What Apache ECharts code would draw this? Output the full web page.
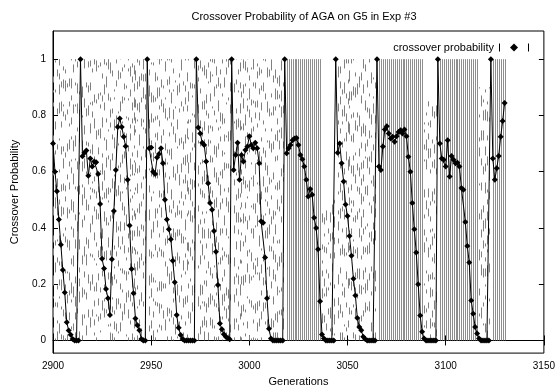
<!DOCTYPE html>
<html><head><meta charset="utf-8">
<script src="https://cdn.jsdelivr.net/npm/echarts@6/dist/echarts.min.js"></script>
<style>html,body{margin:0;padding:0;background:#fff}#c{width:558px;height:392px}</style>
</head><body><div id="c"></div>
<script>
// ---- data ----
const cycleStarts = [2900, 2914, 2948, 2973, 2991, 3018, 3044, 3065, 3096, 3123];
const cycle0 = [0.70,0.60,0.53,0.43,0.34,0.25,0.17,0.065,0.035,0.02,0.005,0,0,0];
const cycle1 = [1.0,0.655,0.667,0.675,0.585,0.647,0.618,0.636,0.633,0.592,0.485,0.29,0.256,0.183,0.15,0.09,0.289,0.46,0.606,0.759,0.789,0.759,0.724,0.69,0.571,0.409,0.254,0.168,0.078,0.054,0.036,0.005,0,0];
const cycle2 = [1.0,0.683,0.686,0.60,0.592,0.65,0.663,0.683,0.63,0.50,0.43,0.395,0.36,0.283,0.207,0.09,0.045,0.019,0.005,0,0,0,0,0,0];
const cycle3 = [1.0,0.757,0.736,0.703,0.695,0.636,0.559,0.489,0.465,0.389,0.315,0.197,0.06,0.04,0.022,0.013,0.008,0.004];
const cycle4 = [1.0,0.606,0.659,0.703,0.571,0.659,0.636,0.677,0.689,0.726,0.695,0.683,0.703,0.683,0.63,0.424,0.418,0.295,0.15,0.042,0.007,0,0,0,0,0,0];
const cycle5 = [1.0,0.665,0.683,0.695,0.712,0.718,0.72,0.695,0.659,0.644,0.618,0.571,0.512,0.538,0.518,0.436,0.40,0.324,0.139,0.021,0.007,0,0,0,0,0];
const cycle6 = [1.0,0.667,0.70,0.63,0.565,0.483,0.442,0.371,0.301,0.219,0.16,0.08,0.048,0.036,0.013,0.005,0,0,0,0,0];
const cycle7 = [1.0,0.618,0.606,0.689,0.75,0.761,0.736,0.718,0.724,0.706,0.726,0.741,0.747,0.736,0.75,0.726,0.653,0.60,0.489,0.395,0.313,0.20,0.089,0.031,0.007,0,0,0,0,0,0];
const cycle8 = [1.0,0.70,0.647,0.642,0.618,0.712,0.583,0.656,0.642,0.63,0.632,0.618,0.542,0.536,0.421,0.336,0.277,0.142,0.095,0.048,0.025,0.007,0,0,0,0,0];
const cycle9 = [1.0,0.647,0.571,0.612,0.656,0.724,0.78,0.844];

// error-bar runs: [fromGen, toGen, low, high]
const denseBarRuns = [[3019,3036,0,1],[3066,3088,0,1],[3097,3116,0,1],[3124,3130,0,1]];
const brokenBarRuns = [[2900,2913,0,1],[2915,2947,0,1],[2949,2972,0,1],[2974,2990,0,1],[2992,3017,0,1],[3037,3043,0,0.5],[3045,3064,0,1],[3089,3095,0,0.85],[3117,3122,0,0.9]];

const xTicks = [2900,2950,3000,3050,3100,3150];
const yTicks = [0,0.2,0.4,0.6,0.8,1];
const yTickLabels = ['0','0.2','0.4','0.6','0.8','1'];

const titleText = 'Crossover Probability of AGA on G5 in Exp #3';
const seriesName = 'crossover probability';

// ---- build series data ----
const cycles = [cycle0,cycle1,cycle2,cycle3,cycle4,cycle5,cycle6,cycle7,cycle8,cycle9];
const lineData = [];
cycles.forEach((c,i)=>c.forEach((v,j)=>lineData.push([cycleStarts[i]+j, v])));
function expandRuns(runs){
  const out=[];
  runs.forEach(r=>{ for(let g=r[0]; g<=r[1]; g++) out.push([g, r[2], r[3]]); });
  return out;
}
const denseBars = expandRuns(denseBarRuns);
const brokenBars = expandRuns(brokenBarRuns);

// deterministic irregular dash texture (purely a drawing style)
function hash(n){ let x = Math.sin(n * 12.9898 + 78.233) * 43758.5453; return x - Math.floor(x); }
function dashFor(g){
  const d = [];
  for (let k = 0; k < 14; k++) {
    const on = 2 + Math.floor(hash(g*31 + k*7) * 10);
    const off = 5 + Math.floor(hash(g*17 + k*13 + 5) * 28);
    d.push(on, off);
  }
  return d;
}

function barRenderer(broken){
  return function(params, api){
    const g = api.value(0);
    const p1 = api.coord([g, api.value(1)]);
    const p2 = api.coord([g, api.value(2)]);
    const px = Math.round(p1[0]) + 0.5;
    const style = {stroke: broken ? '#808080' : '#8e8e8e', lineWidth: 1};
    if (broken) { style.lineDash = dashFor(g); style.lineDashOffset = Math.floor(hash(g*3+1)*20); }
    return {type:'line', shape:{x1:px, y1:p1[1], x2:px, y2:p2[1]}, style: style, silent:true};
  };
}

const chart = echarts.init(document.getElementById('c'), null, {renderer:'canvas'});
const fontFam = '"Liberation Sans", Arial, Helvetica, sans-serif';
chart.setOption({
  animation: false,
  backgroundColor: '#fff',
  textStyle: {fontFamily: fontFam, color:'#000'},
  title: {text: titleText, left: 299, top: 6, textAlign: 'center',
          textStyle: {fontSize: 11, fontWeight: 'normal', color:'#000', fontFamily: fontFam}},
  legend: {data:[{name: seriesName, icon: 'path://M0,0L1,0L1,8L0,8Z M15,0L19,4L15,8L11,4Z M29,0L30,0L30,8L29,8Z'}],
           right: 24, top: 37, align: 'right', itemWidth: 30, itemHeight: 8, selectedMode: false,
           textStyle: {fontSize: 11, color:'#000', fontFamily: fontFam}},
  grid: {left: 53, right: 13, top: 31, bottom: 37, show: true, borderColor:'#000', borderWidth:1, backgroundColor:'transparent'},
  xAxis: [
    {type:'value', min: 2900, max: 3150, interval: 50, position:'bottom',
     name: 'Generations', nameLocation:'middle', nameGap: 22,
     nameTextStyle: {fontSize: 11, color:'#000', fontFamily: fontFam},
     axisLine: {show: true, lineStyle:{color:'#000', width:1}},
     axisTick: {show: true, inside: true, length: 5, lineStyle:{color:'#000'}},
     axisLabel: {color:'#000', fontSize: 10, margin: 8, fontFamily: fontFam,
                 customValues: xTicks, formatter: v => String(v)},
     splitLine: {show:false}},
    {type:'value', min: 2900, max: 3150, interval: 50, position:'top',
     axisLine: {show:false}, axisTick:{show:true, inside:true, length:5, lineStyle:{color:'#000'}},
     axisLabel:{show:false}, splitLine:{show:false}}
  ],
  yAxis: [
    {type:'value', min: -0.045, max: 1.1, position:'left',
     name: 'Crossover Probability', nameLocation:'middle', nameGap: 33, nameRotate: 90,
     nameTextStyle: {fontSize: 11, color:'#000', fontFamily: fontFam},
     axisLine:{show:true, lineStyle:{color:'#000'}},
     axisTick:{show:true, inside:true, length:5, lineStyle:{color:'#000'}, customValues: yTicks},
     axisLabel:{color:'#000', fontSize:10, margin:7, fontFamily: fontFam, customValues: yTicks,
                formatter: v => yTickLabels[yTicks.findIndex(t => Math.abs(t - v) < 1e-6)] || ''},
     splitLine:{show:false}},
    {type:'value', min: -0.045, max: 1.1, position:'right',
     axisLine:{show:false},
     axisTick:{show:true, inside:true, length:5, lineStyle:{color:'#000'}, customValues: yTicks},
     axisLabel:{show:false}, splitLine:{show:false}}
  ],
  series: [
    {type:'custom', name:'bars-broken', data: brokenBars, renderItem: barRenderer(true),
     encode:{x:0, y:[1,2]}, z:1, silent:true},
    {type:'custom', name:'bars-dense', data: denseBars, renderItem: barRenderer(false),
     encode:{x:0, y:[1,2]}, z:1, silent:true},
    {type:'line', name: seriesName, data: lineData, symbol:'diamond', symbolSize: 6,
     showAllSymbol: true, color:'#000',
     lineStyle:{color:'#000', width:1}, itemStyle:{color:'#000'}, z:3}
  ]
});
</script>
</body></html>
